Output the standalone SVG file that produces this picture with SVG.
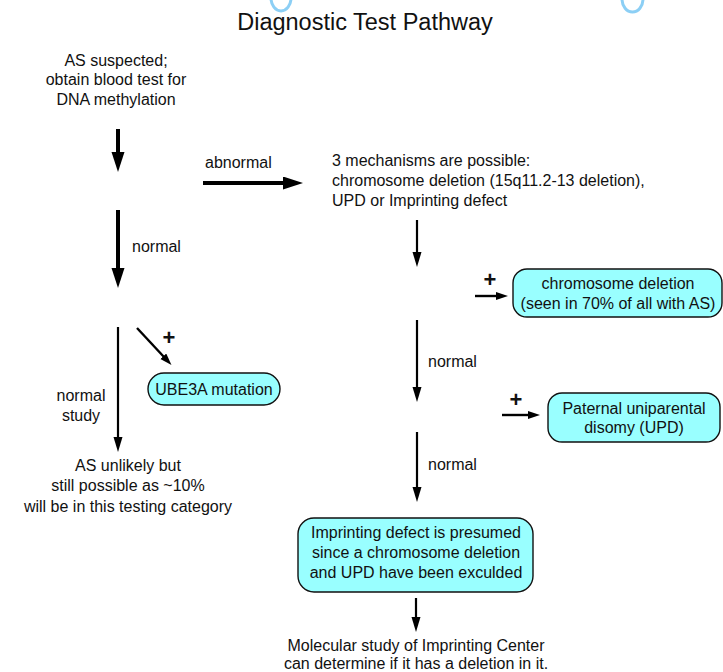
<svg xmlns="http://www.w3.org/2000/svg" width="723" height="672" viewBox="0 0 723 672">
<style>
text{font-family:"Liberation Sans",Arial,sans-serif;font-size:16px;fill:#111}
.c{text-anchor:middle}
.title{font-size:23.5px}
.box{fill:#99ffff;stroke:#111;stroke-width:1.4}
.big{stroke:#000;stroke-width:4;fill:none;marker-end:url(#hb)}
.med{stroke:#000;stroke-width:2.2;fill:none;marker-end:url(#hm)}
.sm{stroke:#000;stroke-width:2.4;fill:none;marker-end:url(#hs)}
.plus{font-size:22px;font-weight:bold}
.deco{fill:none;stroke:#8ccff5;stroke-width:3}
</style>
<defs>
<marker id="hb" markerUnits="userSpaceOnUse" markerWidth="22" markerHeight="14" refX="1" refY="6.5" orient="auto"><path d="M0,0 L20,6.5 L0,13 Z" fill="#000"/></marker>
<marker id="hm" markerUnits="userSpaceOnUse" markerWidth="16" markerHeight="10" refX="1" refY="4.5" orient="auto"><path d="M0,0 L15,4.5 L0,9 Z" fill="#000"/></marker>
<marker id="hs" markerUnits="userSpaceOnUse" markerWidth="14" markerHeight="9" refX="1" refY="4" orient="auto"><path d="M0,0 L12,4 L0,8 Z" fill="#000"/></marker>
</defs>
<rect width="723" height="672" fill="#fff"/>
<ellipse class="deco" cx="281" cy="-2" rx="10" ry="13"/>
<ellipse class="deco" cx="632.5" cy="-1" rx="10.5" ry="13"/>
<text class="title c" x="365" y="30">Diagnostic Test Pathway</text>

<g id="start">
<text class="c" x="116" y="66">AS suspected;</text>
<text class="c" x="116" y="85">obtain blood test for</text>
<text class="c" x="116" y="105">DNA methylation</text>
</g>
<g id="mechanisms">
<text x="332" y="166">3 mechanisms are possible:</text>
<text x="332" y="186">chromosome deletion (15q11.2-13 deletion),</text>
<text x="332" y="206">UPD or Imprinting defect</text>
</g>
<g id="chromdel">
<rect class="box" x="513" y="269" width="209" height="48" rx="14"/>
<text class="c" x="618" y="289">chromosome deletion</text>
<text class="c" x="618" y="309">(seen in 70% of all with AS)</text>
</g>
<g id="upd">
<rect class="box" x="548" y="393" width="172" height="49" rx="14"/>
<text class="c" x="634" y="414">Paternal uniparental</text>
<text class="c" x="634" y="433">disomy (UPD)</text>
</g>
<g id="imprinting">
<rect class="box" x="298" y="518" width="235" height="74" rx="16"/>
<text class="c" x="416" y="538">Imprinting defect is presumed</text>
<text class="c" x="416" y="558">since a chromosome deletion</text>
<text class="c" x="416" y="578">and UPD have been exculded</text>
</g>
<g id="molecular">
<text class="c" x="416" y="651">Molecular study of Imprinting Center</text>
<text class="c" x="416" y="669">can determine if it has a deletion in it.</text>
</g>
<g id="ube3a">
<rect class="box" x="148" y="373" width="132" height="32" rx="16"/>
<text class="c" x="214" y="395">UBE3A mutation</text>
</g>
<g id="unlikely">
<text class="c" x="128" y="471">AS unlikely but</text>
<text class="c" x="128" y="491">still possible as ~10%</text>
<text class="c" x="128" y="512">will be in this testing category</text>
</g>

<g id="connectors">
<line class="big" x1="118" y1="129" x2="118" y2="153"/>
<line class="big" x1="118" y1="210" x2="118" y2="269"/>
<text x="132" y="252">normal</text>
<line class="big" x1="203" y1="183" x2="284" y2="183"/>
<text x="205" y="168">abnormal</text>
<line class="med" x1="417" y1="220" x2="417" y2="253"/>
<line class="sm" x1="475" y1="296" x2="497" y2="296"/>
<text class="plus c" x="490" y="287">+</text>
<line class="med" x1="417" y1="320" x2="417" y2="388"/>
<text x="428" y="367">normal</text>
<line class="sm" x1="502" y1="415" x2="529" y2="415"/>
<text class="plus c" x="516" y="407">+</text>
<line class="med" x1="417" y1="432" x2="417" y2="488"/>
<text x="428" y="470">normal</text>
<line class="med" x1="416" y1="598" x2="416" y2="618"/>
<line class="med" x1="118" y1="327" x2="118" y2="438"/>
<text class="c" x="81" y="401">normal</text>
<text class="c" x="81" y="421">study</text>
<line class="sm" x1="137" y1="328" x2="164" y2="357"/>
<text class="plus c" x="169" y="345">+</text>
</g>
</svg>
